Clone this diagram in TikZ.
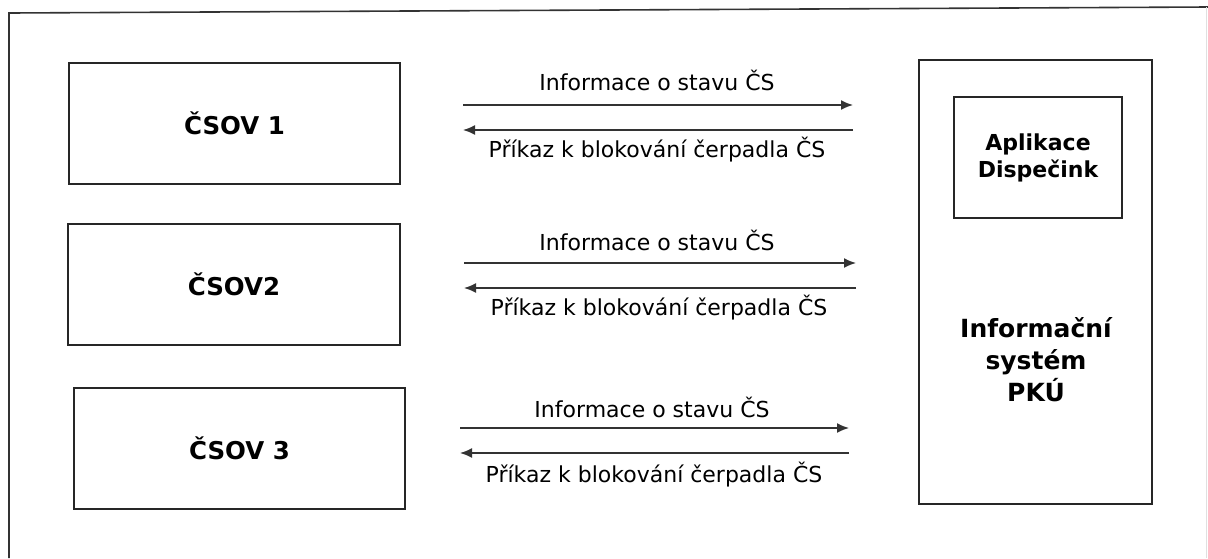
\documentclass[tikz,border=0pt]{standalone}
\usepackage{fontspec}
\setmainfont{DejaVu Sans}
\usetikzlibrary{arrows.meta}
\begin{document}
\begin{tikzpicture}[x=1pt,y=-1pt,
  box/.style={draw=black!85,line width=1.8pt,rectangle,inner sep=0pt,align=center},
  boxtxt/.style={font=\bfseries\fontsize{24.5}{30}\selectfont},
  lab/.style={font=\fontsize{22}{26}\selectfont,anchor=base,inner sep=0pt},
  flow/.style={draw=black!80,line width=1.6pt,-{Latex[length=12pt,width=10pt]}}]
\useasboundingbox (0,0) rectangle (1208,558);
% outer frame
\draw[black!80,line width=1.6pt] (9,558) -- (9,13) -- (1208,7);
\draw[black!12,line width=1pt] (1206,7) -- (1206,558);
% left boxes
\node[box,boxtxt,minimum width=331pt,minimum height=121pt] (c1) at (234.5,123.5) {ČSOV 1};
\node[box,boxtxt,minimum width=332pt,minimum height=121pt] (c2) at (234,284.5) {ČSOV2};
\node[box,boxtxt,minimum width=331pt,minimum height=121pt] (c3) at (239.5,448.5) {ČSOV 3};
% right boxes
\node[box,minimum width=233pt,minimum height=444pt] (pku) at (1035.5,282) {};
\node[box,font=\bfseries\fontsize{22}{27}\selectfont,minimum width=168pt,minimum height=121pt] (app) at (1038,157.5) {Aplikace\\Dispečink};
\node[font=\bfseries\fontsize{25}{32}\selectfont,align=center,inner sep=0pt] (is) at (1036,360) {Informační\\systém\\PKÚ};
% arrow endpoints
\coordinate (a1l) at (463,105); \coordinate (a1r) at (853,105);
\coordinate (b1l) at (463,130); \coordinate (b1r) at (853,130);
\coordinate (a2l) at (464,263); \coordinate (a2r) at (856,263);
\coordinate (b2l) at (464,288); \coordinate (b2r) at (856,288);
\coordinate (a3l) at (460,428); \coordinate (a3r) at (849,428);
\coordinate (b3l) at (460,453); \coordinate (b3r) at (849,453);
\draw[flow] (a1l) -- (a1r);
\draw[flow] (b1r) -- (b1l);
\draw[flow] (a2l) -- (a2r);
\draw[flow] (b2r) -- (b2l);
\draw[flow] (a3l) -- (a3r);
\draw[flow] (b3r) -- (b3l);
% labels
\node[lab] (t1) at (657,90) {Informace o stavu ČS};
\node[lab] (u1) at (657,157) {Příkaz k blokování čerpadla ČS};
\node[lab] (t2) at (657,250) {Informace o stavu ČS};
\node[lab] (u2) at (659,315) {Příkaz k blokování čerpadla ČS};
\node[lab] (t3) at (652,417) {Informace o stavu ČS};
\node[lab] (u3) at (654,482) {Příkaz k blokování čerpadla ČS};
\end{tikzpicture}
\end{document}
